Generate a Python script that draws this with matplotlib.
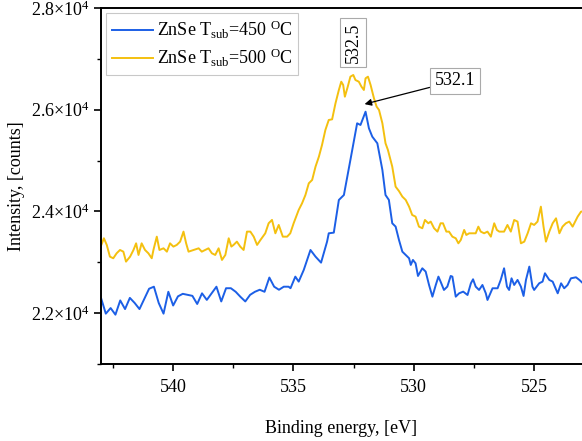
import matplotlib
matplotlib.use("Agg")
import matplotlib.pyplot as plt
from matplotlib.ticker import FuncFormatter, MultipleLocator

plt.rcParams['font.family'] = ['Liberation Serif', 'DejaVu Serif']
plt.rcParams['mathtext.fontset'] = 'custom'
plt.rcParams['mathtext.rm'] = 'Liberation Serif'
plt.rcParams['mathtext.it'] = 'Liberation Serif:italic'
plt.rcParams['mathtext.bf'] = 'Liberation Serif:bold'

# ZnSe Tsub = 450 C
x_450 = [543.0, 542.8, 542.6, 542.4, 542.2, 542.0, 541.8, 541.6, 541.4, 541.2, 541.0, 540.8,
         540.6, 540.4, 540.2, 540.0, 539.8, 539.6, 539.4, 539.2, 539.0,
         538.8, 538.6, 538.4, 538.2, 538.0, 537.8, 537.6, 537.4, 537.2, 537.0, 536.8, 536.6,
         536.4, 536.2, 536.0, 535.8, 535.6, 535.4, 535.2,
         535.12, 534.92, 534.78, 534.57, 534.29, 534.08, 533.85, 533.6, 533.53, 533.32, 533.11,
         532.9, 532.63, 532.35, 532.21, 532.0, 531.86, 531.72, 531.51, 531.3, 531.17, 531.03,
         530.89, 530.75, 530.61, 530.47, 530.33, 530.19, 530.12, 530.03, 529.92, 529.82, 529.64,
         529.5, 529.36, 529.22, 529.08, 528.97, 528.88, 528.74, 528.6, 528.46, 528.39, 528.25,
         528.11, 527.94, 527.76, 527.62, 527.53, 527.42, 527.28, 527.14, 527.0, 526.93, 526.72,
         526.51, 526.38, 526.24, 526.12, 526.03, 525.93, 525.82, 525.68, 525.54, 525.43, 525.33,
         525.19, 525.06, 524.99, 524.78, 524.64, 524.54, 524.36, 524.22, 524.01, 523.87, 523.74,
         523.6, 523.46, 523.25, 523.11, 522.96]
y_450 = [22300, 21990, 22100, 21970, 22250, 22080, 22300, 22200, 22080, 22280, 22480, 22520,
         22200, 21990, 22420, 22150, 22330, 22380, 22360, 22340, 22180,
         22390, 22260, 22390, 22520, 22230, 22490, 22490, 22420, 22320, 22230, 22360, 22420,
         22460, 22420, 22700, 22520, 22460, 22520, 22520,
         22490, 22718, 22620, 22849, 23242, 23111, 22993, 23406, 23570, 23583, 24225,
         24323, 25012, 25733, 25700, 25961, 25635, 25470, 25340, 24815, 24323, 24226,
         23767, 23702, 23439, 23209, 23144, 23079, 22948, 23046, 22980, 22731, 22882,
         22817, 22554, 22324, 22554, 22718, 22620, 22456, 22521, 22731, 22718, 22324,
         22390, 22423, 22357, 22587, 22666, 22521, 22456, 22554, 22390, 22259, 22489,
         22489, 22653, 22882, 22521, 22456, 22685, 22554, 22653, 22521, 22338, 22653,
         22915, 22521, 22456, 22587, 22620, 22784, 22653, 22620, 22390, 22587, 22489,
         22554, 22685, 22705, 22653, 22587]

# ZnSe Tsub = 500 C
x_500 = [543.04, 542.88, 542.76, 542.63, 542.49, 542.35, 542.21, 542.07, 541.96, 541.79, 541.65,
         541.54, 541.44, 541.31, 541.17, 541.03, 540.89, 540.82, 540.68, 540.57, 540.4, 540.26,
         540.13, 539.99, 539.85, 539.71, 539.57, 539.46, 539.36, 539.15, 538.94, 538.81, 538.67,
         538.53, 538.39, 538.25, 538.11, 537.97, 537.83, 537.69, 537.58, 537.49, 537.35, 537.21,
         537.07, 536.93, 536.79, 536.65, 536.51, 536.37, 536.17, 536.03, 535.89, 535.75, 535.61,
         535.44, 535.26, 535.13, 534.99, 534.78, 534.64, 534.5, 534.36, 534.22, 534.08, 533.94,
         533.81, 533.67, 533.53, 533.39, 533.25, 533.11, 533.01, 532.93, 532.86, 532.74, 532.63,
         532.51, 532.42, 532.28, 532.17, 532.07, 532.0, 531.9, 531.79, 531.65, 531.54, 531.44,
         531.3, 531.17, 531.07, 530.89, 530.75, 530.61, 530.47, 530.33, 530.19, 530.06, 529.92,
         529.78, 529.64, 529.53, 529.39, 529.29, 529.15, 529.01, 528.88, 528.78, 528.64, 528.53,
         528.39, 528.25, 528.14, 528.04, 527.9, 527.81, 527.69, 527.56, 527.42, 527.31, 527.21,
         527.07, 526.93, 526.79, 526.65, 526.54, 526.44, 526.24, 526.1, 525.96, 525.82, 525.68,
         525.54, 525.4, 525.26, 525.12, 524.99, 524.85, 524.71, 524.6, 524.5, 524.36, 524.22,
         524.08, 523.94, 523.81, 523.67, 523.53, 523.39, 523.18, 523.04, 522.96]
y_500 = [23275, 23472, 23341, 23111, 23079, 23177, 23242, 23209, 23013, 23111, 23242,
         23373, 23144, 23373, 23242, 23177, 23079, 23242, 23504, 23242, 23275, 23209,
         23373, 23308, 23341, 23406, 23603, 23373, 23209, 23242, 23275, 23209, 23242,
         23275, 23177, 23144, 23275, 23046, 23144, 23472, 23308, 23341, 23406, 23308,
         23242, 23603, 23603, 23504, 23341, 23439, 23570, 23767, 23833, 23570, 23734,
         23504, 23504, 23570, 23767, 24029, 24160, 24323, 24553, 24619, 24881, 25077,
         25307, 25602, 25798, 25811, 26126, 26388, 26551, 26486, 26256, 26453, 26650,
         26683, 26584, 26551, 26453, 26388, 26617, 26650, 26486, 26224, 26060, 25995,
         25733, 25340, 25209, 24881, 24487, 24400, 24291, 24226, 24094, 23930, 23898,
         23701, 23669, 23832, 23767, 23800, 23669, 23603, 23767, 23767, 23603, 23603,
         23504, 23472, 23373, 23439, 23636, 23537, 23570, 23570, 23570, 23701, 23603,
         23570, 23603, 23504, 23767, 23636, 23603, 23603, 23734, 23603, 23832, 23800,
         23373, 23406, 23570, 23767, 23734, 23800, 24094, 23701, 23406, 23603, 23767,
         23865, 23570, 23701, 23767, 23800, 23701, 23898, 23996, 24000]

labels = [r"ZnSe T$_{\mathrm{sub}}$=450 $^{\mathrm{O}}$C", r"ZnSe T$_{\mathrm{sub}}$=500 $^{\mathrm{O}}$C"]
colors = ["#1c5fe6", "#f4c00f"]

FS = 13

fig = plt.figure(figsize=(5.82, 4.41), dpi=100)
ax = fig.add_axes([101/582, 1-364/441, 1-101/582, (364-8)/441])

ax.plot(x_450, y_450, color=colors[0], lw=1.4, label=labels[0])
ax.plot(x_500, y_500, color=colors[1], lw=1.4, label=labels[1])

ax.set_xlim(543, 523)
ax.set_ylim(21000, 28000)
ax.xaxis.set_major_locator(MultipleLocator(5))
ax.xaxis.set_minor_locator(MultipleLocator(2.5))
ax.yaxis.set_major_locator(MultipleLocator(2000))
ax.yaxis.set_minor_locator(MultipleLocator(1000))

def yfmt(v, pos):
    return r"$%.1f{\times}10^{4}$" % (v / 1e4)
ax.yaxis.set_major_formatter(FuncFormatter(yfmt))

ax.tick_params(axis='both', which='major', direction='out', length=5, width=1.2, labelsize=FS)
ax.tick_params(axis='both', which='minor', direction='out', length=3, width=1.0)
ax.tick_params(axis='x', pad=6)
ax.tick_params(axis='y', pad=3)

for s in ['left', 'bottom', 'top']:
    ax.spines[s].set_linewidth(1.4)
ax.spines['right'].set_visible(False)

ax.set_xlabel("Binding energy, [eV]", fontsize=FS, labelpad=17)
ax.set_ylabel("Intensity, [counts]", fontsize=FS, labelpad=4)

leg = ax.legend(loc='upper left', fontsize=FS, frameon=True, fancybox=False,
                edgecolor='#bbbbbb', handlelength=2.3, handletextpad=0.2,
                borderaxespad=0.3, borderpad=0.3, labelspacing=0.35)
leg.get_frame().set_linewidth(0.8)

box = dict(boxstyle='square,pad=0.25', fc='white', ec='#aaaaaa', lw=0.8)
ax.text(532.52, 27320, "532.5", rotation=90, ha='center', va='center', fontsize=FS, bbox=box)
ax.annotate("532.1", xy=(532.04, 26110), xytext=(528.29, 26565), ha='center', va='center',
            fontsize=FS, bbox=box,
            arrowprops=dict(arrowstyle='-|>', color='black', lw=0.9, mutation_scale=10,
                            shrinkA=0, shrinkB=0))

fig.savefig("out.png", dpi=100)
